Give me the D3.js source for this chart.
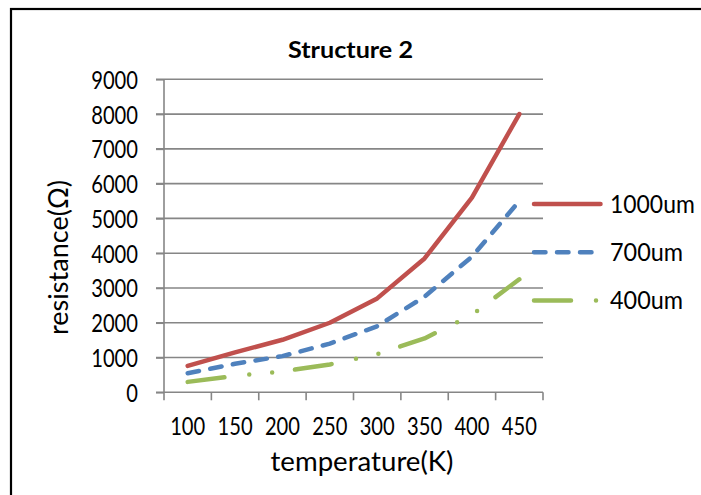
<!DOCTYPE html>
<html>
<head>
<meta charset="utf-8">
<script src="https://cdn.jsdelivr.net/npm/d3@7"></script>
<style>
  body { margin: 0; background: #fff; }
  svg { display: block; }
  text { font-family: Lato, "Open Sans", sans-serif; fill: #000; }
</style>
</head>
<body>
<script>
// Categories on the x axis (temperature, K)
const temps = ["100", "150", "200", "250", "300", "350", "400", "450"];
// Resistance values (ohm)
const r1000 = [760, 1150, 1510, 2000, 2700, 3850, 5600, 8000];
const r700 = [550, 820, 1040, 1400, 1900, 2750, 3900, 5500];
const r400 = [300, 470, 600, 800, 1100, 1550, 2230, 3250];
const yTicks = [0, 1000, 2000, 3000, 4000, 5000, 6000, 7000, 8000, 9000];

const seriesList = [
    {name: "1000um", values: r1000, color: "#C0504D", dash: null},
    {name: "700um", values: r700, color: "#4F81BD", dash: "11.5,11.5"},
    {name: "400um", values: r400, color: "#9BBB59", dash: "37,25,0,23,0,23"}
];

const W = 701, H = 495;
// Plot area
const plotLeft = 164, plotRight = 543, plotTop = 79.3, plotBottom = 392.3;
const GRID = "#868686";
const FS = 25;
// Width of one digit in the reference face (it is narrow, like Calibri)
const DIGIT = 11.7;

// Stretch or squeeze a text to a given width
function fit(sel, w) {
    sel.attr("textLength", w).attr("lengthAdjust", "spacingAndGlyphs");
}

const svg = d3.select("body").append("svg")
    .attr("width", W)
    .attr("height", H);

// Outer border, cut off at the right and bottom
svg.append("rect")
    .attr("x", 11).attr("y", 9)
    .attr("width", 760).attr("height", 560)
    .attr("fill", "none").attr("stroke", "#000").attr("stroke-width", 2.2);

const x = d3.scaleBand().domain(temps).range([plotLeft, plotRight]).padding(0);
const y = d3.scaleLinear().domain([0, 9000]).range([plotBottom, plotTop]);

// Horizontal gridlines
svg.append("g").selectAll("line")
    .data(yTicks.filter(d => d > 0))
    .join("line")
    .attr("x1", plotLeft - 8).attr("x2", plotRight)
    .attr("y1", d => y(d)).attr("y2", d => y(d))
    .attr("stroke", GRID).attr("stroke-width", 1.6);

// Y axis with labels
const yAxis = svg.append("g")
    .attr("transform", `translate(${plotLeft},0)`)
    .call(d3.axisLeft(y).tickValues(yTicks).tickFormat(d3.format("d"))
        .tickSize(8).tickPadding(18));
yAxis.attr("font-family", null);
yAxis.select(".domain").attr("stroke", GRID).attr("stroke-width", 1.6)
    .attr("d", `M0,${plotTop}V${plotBottom}`);
yAxis.selectAll(".tick line").attr("stroke", GRID).attr("stroke-width", 1.6);
yAxis.selectAll(".tick text")
    .attr("font-size", FS)
    .attr("dy", "0.36em")
    .each(function (d) { fit(d3.select(this), String(d).length * DIGIT); });

// X axis: labels at band centres, ticks at band edges
const xAxis = svg.append("g")
    .attr("transform", `translate(0,${plotBottom})`)
    .call(d3.axisBottom(x).tickSize(0).tickPadding(25));
xAxis.attr("font-family", null);
xAxis.select(".domain").attr("stroke", GRID).attr("stroke-width", 1.6)
    .attr("d", `M${plotLeft - 8},0H${plotRight}`);
xAxis.selectAll(".tick text")
    .attr("font-size", FS)
    .each(function (d) { fit(d3.select(this), d.length * DIGIT); });

const edges = temps.map(d => x(d)).concat([x.range()[1]]);
svg.append("g").selectAll("line")
    .data(edges)
    .join("line")
    .attr("x1", d => d).attr("x2", d => d)
    .attr("y1", plotBottom).attr("y2", plotBottom + 8)
    .attr("stroke", GRID).attr("stroke-width", 1.6);

// Series lines
const line = d3.line()
    .x((d, i) => x(temps[i]) + x.bandwidth() / 2)
    .y(d => y(d));

svg.append("g").selectAll("path")
    .data(seriesList)
    .join("path")
    .attr("d", d => line(d.values))
    .attr("fill", "none")
    .attr("stroke", d => d.color)
    .attr("stroke-width", 4.5)
    .attr("stroke-linecap", "round")
    .attr("stroke-linejoin", "round")
    .attr("stroke-dasharray", d => d.dash);

// Title
svg.append("text")
    .attr("x", 350.5).attr("y", 58)
    .attr("text-anchor", "middle")
    .attr("font-size", 22).attr("font-weight", "bold")
    .text("Structure 2")
    .call(fit, 125);

// Axis titles
svg.append("text")
    .attr("x", 362).attr("y", 471)
    .attr("text-anchor", "middle")
    .attr("font-size", 26)
    .text("temperature(K)")
    .call(fit, 183);

svg.append("g")
    .attr("transform", "translate(68,257.5) rotate(-90)")
    .append("text")
    .attr("text-anchor", "middle")
    .attr("font-size", 26)
    .text("resistance(Ω)")
    .call(fit, 155);

// Legend
const legend = svg.append("g").selectAll("g")
    .data(seriesList)
    .join("g")
    .attr("transform", (d, i) => `translate(0,${204 + i * 48.3})`);

legend.append("line")
    .attr("x1", 534).attr("x2", 600.5)
    .attr("stroke", d => d.color)
    .attr("stroke-width", 4.5)
    .attr("stroke-linecap", "round")
    .attr("stroke-dasharray", d => d.dash);

legend.append("text")
    .attr("x", 610).attr("y", 8.5)
    .attr("font-size", FS)
    .text(d => d.name)
    .each(function (d) {
        fit(d3.select(this), (d.name.length - 2) * DIGIT + 38);
    });
</script>
</body>
</html>
